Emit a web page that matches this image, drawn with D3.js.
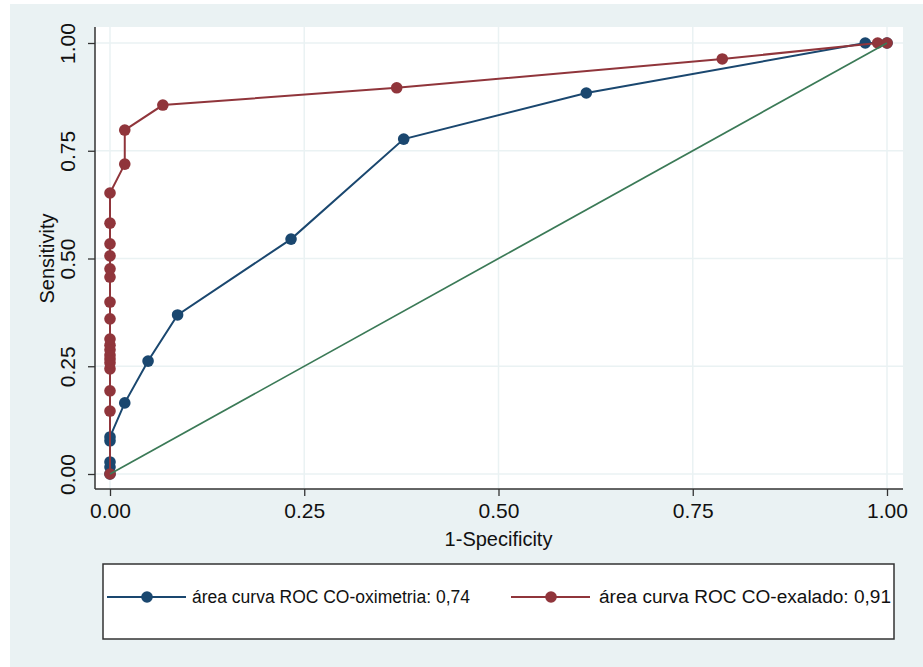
<!DOCTYPE html>
<html>
<head>
<meta charset="utf-8">
<script src="https://cdn.jsdelivr.net/npm/d3@7"></script>
<style>
  body { margin: 0; background: #fff; }
  svg { display: block; font-family: "Liberation Sans", Arial, sans-serif; }
</style>
</head>
<body>
<svg id="roc"></svg>
<script>
(function() {

// 1-Specificity / Sensitivity, CO-oximetria
const fprOxi  = [0, 0, 0, 0, 0, 0.019, 0.049, 0.087, 0.233, 0.378, 0.613, 0.972, 1];
const sensOxi = [0, 0.016, 0.028, 0.077, 0.086, 0.165, 0.262, 0.369, 0.545, 0.777, 0.884, 1, 1];

// 1-Specificity / Sensitivity, CO-exalado
const fprExa  = [0, 0, 0, 0, 0, 0, 0, 0, 0, 0, 0, 0, 0, 0, 0, 0, 0, 0,
                 0.019, 0.019, 0.068, 0.369, 0.788, 0.988, 1];
const sensExa = [0, 0.146, 0.193, 0.244, 0.258, 0.267, 0.276, 0.288, 0.299, 0.313, 0.360, 0.399,
                 0.457, 0.476, 0.506, 0.534, 0.582, 0.652,
                 0.719, 0.798, 0.856, 0.896, 0.963, 1, 1];

const ticks = [0, 0.25, 0.5, 0.75, 1];
const seriesNames = ["área curva ROC CO-oximetria: 0,74", "área curva ROC CO-exalado: 0,91"];
const seriesColors = ["#1a476f", "#90353b"];
const refColor = "#3b7a57";

const W = 923, H = 667;
const svg = d3.select("#roc").attr("width", W).attr("height", H);

// graph region + plot region
svg.append("rect").attr("x", 10).attr("y", 4).attr("width", W - 10).attr("height", H - 4)
    .attr("fill", "#eaf2f3");
svg.append("rect").attr("x", 95).attr("y", 27).attr("width", 808).attr("height", 462)
    .attr("fill", "#fff");

const x = d3.scaleLinear().domain([0, 1]).range([110, 887]);
const y = d3.scaleLinear().domain([0, 1]).range([474, 43]);

// grid
svg.append("g").selectAll("line").data(ticks).enter().append("line")
    .attr("x1", d => x(d)).attr("x2", d => x(d)).attr("y1", 27).attr("y2", 488)
    .attr("stroke", "#eaf2f3").attr("stroke-width", 1.5);
svg.append("g").selectAll("line").data(ticks).enter().append("line")
    .attr("x1", 95).attr("x2", 903).attr("y1", d => y(d)).attr("y2", d => y(d))
    .attr("stroke", "#eaf2f3").attr("stroke-width", 1.5);

// axes
const xAxis = svg.append("g").attr("transform", "translate(0,489)")
    .call(d3.axisBottom(x).tickValues(ticks).tickFormat(d3.format(".2f")).tickSize(7).tickPadding(7));
const yAxis = svg.append("g").attr("transform", "translate(95,0)")
    .call(d3.axisLeft(y).tickValues(ticks).tickFormat(d3.format(".2f")).tickSize(7).tickPadding(6));

[xAxis, yAxis].forEach(a => {
  a.select(".domain").remove();
  a.selectAll(".tick line").attr("stroke", "#333").attr("stroke-width", 1.3);
  a.selectAll(".tick text").attr("fill", "#111").style("font-size", "21px")
      .style("font-family", "'Liberation Sans', Arial, sans-serif");
});
yAxis.selectAll(".tick text")
    .attr("transform", "rotate(-90)")
    .attr("x", 0).attr("y", -20).attr("dy", 0)
    .attr("text-anchor", "middle");
xAxis.selectAll(".tick text").attr("dy", "0.71em");

svg.append("line").attr("x1", 95).attr("x2", 95).attr("y1", 27).attr("y2", 489)
    .attr("stroke", "#333").attr("stroke-width", 1.5);
svg.append("line").attr("x1", 95).attr("x2", 903).attr("y1", 489).attr("y2", 489)
    .attr("stroke", "#333").attr("stroke-width", 1.5);

// axis titles
svg.append("text").attr("x", x(0.5)).attr("y", 546).attr("text-anchor", "middle")
    .style("font-size", "20px").attr("fill", "#111").text("1-Specificity");
svg.append("text").attr("transform", `translate(54,${y(0.5)}) rotate(-90)`)
    .attr("text-anchor", "middle").style("font-size", "20px").attr("fill", "#111")
    .text("Sensitivity");

// curves
const line = d3.line().x(d => x(d[0])).y(d => y(d[1]));
const series = [d3.zip(fprOxi, sensOxi), d3.zip(fprExa, sensExa)];

series.forEach((pts, i) => {
  const g = svg.append("g");
  g.append("path").datum(pts).attr("d", line)
      .attr("fill", "none").attr("stroke", seriesColors[i]).attr("stroke-width", 2);
  g.selectAll("circle").data(pts).enter().append("circle")
      .attr("cx", d => x(d[0])).attr("cy", d => y(d[1])).attr("r", 5.8)
      .attr("fill", seriesColors[i]);
});

// reference line
svg.append("path").datum([[0, 0], [1, 1]]).attr("d", line)
    .attr("fill", "none").attr("stroke", refColor).attr("stroke-width", 1.7);

// legend
svg.append("rect").attr("x", 103).attr("y", 564).attr("width", 791).attr("height", 75)
    .attr("fill", "#fff").attr("stroke", "#333").attr("stroke-width", 1.5);

const legendX = [107, 511];
const legendTextLen = [278, 292];
const legendY = 597;
seriesNames.forEach((name, i) => {
  const lg = svg.append("g").attr("transform", `translate(${legendX[i]},${legendY})`);
  lg.append("line").attr("x1", 0).attr("x2", 79).attr("y1", 0).attr("y2", 0)
      .attr("stroke", seriesColors[i]).attr("stroke-width", 2);
  lg.append("circle").attr("cx", 40).attr("cy", 0).attr("r", 5.8).attr("fill", seriesColors[i]);
  lg.append("text").attr("x", i === 0 ? 85 : 88).attr("y", 0).attr("dy", "0.36em")
      .attr("textLength", legendTextLen[i]).attr("lengthAdjust", "spacingAndGlyphs")
      .style("font-size", "18px").attr("fill", "#111").text(name);
});

})();
</script>
</body>
</html>
